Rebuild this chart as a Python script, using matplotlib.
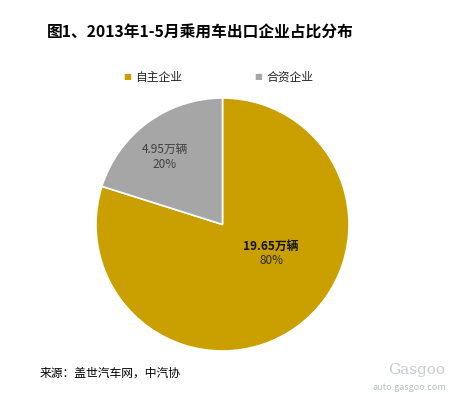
import matplotlib
matplotlib.use("Agg")
import matplotlib.pyplot as plt

plt.rcParams['font.family'] = ['Noto Sans CJK SC', 'DejaVu Sans']

categories = ["自主企业", "合资企业"]
values = [19.65, 4.95]
value_labels = ["19.65万辆", "4.95万辆"]
pct_labels = ["80%", "20%"]
colors = ["#C9A000", "#A6A6A6"]
title = "图1、2013年1-5月乘用车出口企业占比分布"
source = "来源：盖世汽车网，中汽协"

W, H = 451, 394
fig = plt.figure(figsize=(W / 100, H / 100), dpi=100)
fig.patch.set_facecolor("white")

cx, cy, r = 222.5, 224.5, 126.5
ax = fig.add_axes([(cx - r) / W, (H - cy - r) / H, 2 * r / W, 2 * r / H])
wedges, _ = ax.pie(values, colors=colors, startangle=90, counterclock=False,
                   radius=1.0, wedgeprops=dict(edgecolor="white", linewidth=1.2))
ax.set_xlim(-1, 1)
ax.set_ylim(-1, 1)
ax.set_aspect("equal")
ax.axis("off")

def py(y):
    return (cy - y) / r

def px(x):
    return (x - cx) / r

# data labels
ax.text(px(271), py(246), value_labels[0], ha="center", va="center",
        fontsize=8.5, color="#111111", fontweight="bold")
ax.text(px(271), py(261), pct_labels[0], ha="center", va="center",
        fontsize=8.5, color="#2a2a2a")
ax.text(px(165), py(149), value_labels[1], ha="center", va="center",
        fontsize=8.5, color="#404040")
ax.text(px(165), py(164), pct_labels[1], ha="center", va="center",
        fontsize=8.5, color="#404040")

fig.text(47 / W, 1 - 33 / H, title, ha="left", va="center", fontsize=11.3,
         fontweight="bold", color="black")

for i, (lab, c) in enumerate(zip(categories, colors)):
    x0 = [127, 258][i]
    fig.text(x0 / W, 1 - 77 / H, "■", ha="center", va="center", fontsize=6, color=c,
             family=['DejaVu Sans'])
    fig.text((x0 + 8) / W, 1 - 77 / H, lab, ha="left", va="center", fontsize=8.5,
             color="#222222")

fig.text(40 / W, 1 - 373 / H, source, ha="left", va="center", fontsize=8.5, color="black")
fig.text(445 / W, 1 - 370 / H, "Gasgoo", ha="right", va="center", fontsize=11,
         color="#c8ccd4", family=["DejaVu Serif"])
fig.text(446 / W, 1 - 388 / H, "auto.gasgoo.com", ha="right", va="center", fontsize=6.5,
         color="#b8bcc4")

fig.savefig("out.png", dpi=100, facecolor="white")
